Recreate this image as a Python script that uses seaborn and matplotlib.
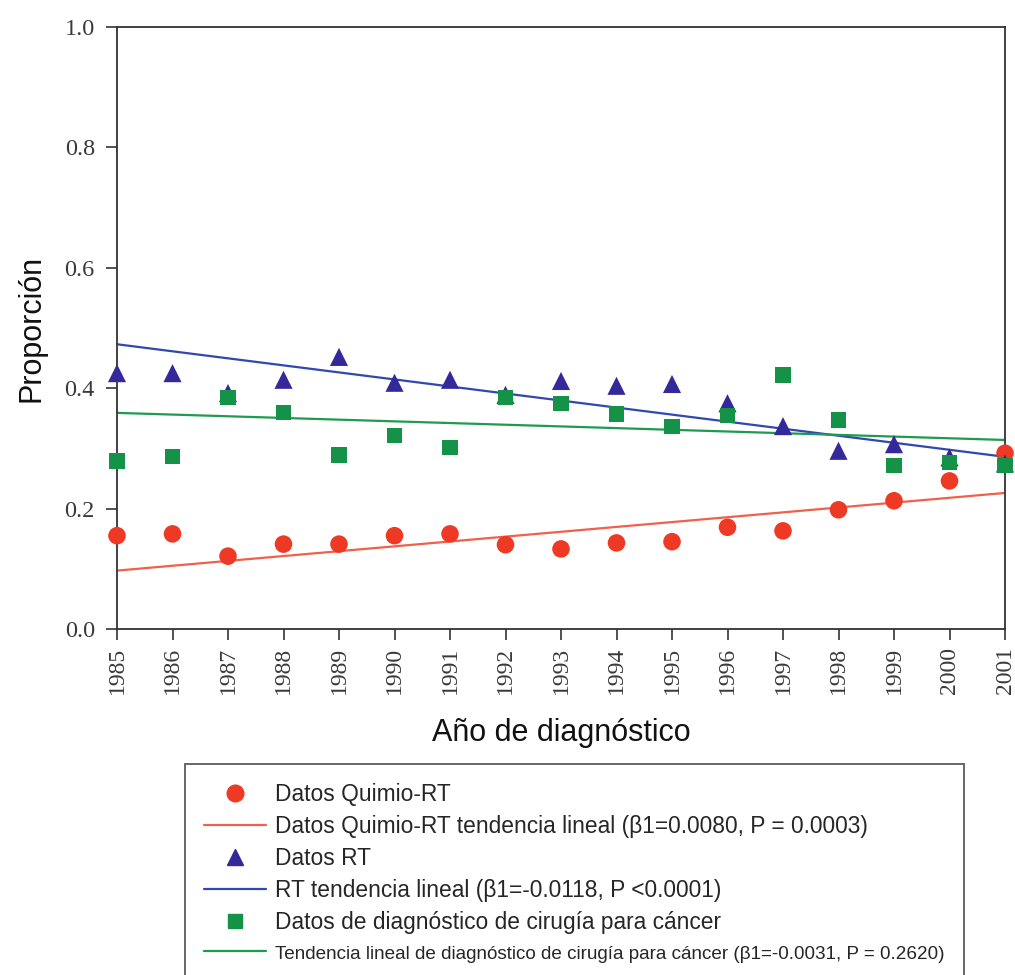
import numpy as np
import pandas as pd
import matplotlib
matplotlib.use("Agg")
import matplotlib.pyplot as plt
import seaborn as sns
from matplotlib.lines import Line2D

years = list(range(1985, 2002))
quimio_rt = [0.155, 0.158, 0.121, 0.141, 0.141, 0.155, 0.158, 0.140, 0.133,
             0.143, 0.145, 0.169, 0.163, 0.198, 0.213, 0.246, 0.292]
rt = [0.425, 0.425, 0.392, 0.414, 0.452, 0.409, 0.414, 0.389, 0.412,
      0.404, 0.407, 0.375, 0.337, 0.296, 0.307, 0.285, 0.275]
cirugia = [0.279, 0.286, 0.384, 0.360, 0.289, 0.321, 0.302, 0.384, 0.374,
           0.357, 0.337, 0.354, 0.422, 0.347, 0.271, 0.277, 0.272]

trend_years = [1985, 2001]
trend_quimio = [0.097, 0.226]
trend_rt = [0.473, 0.286]
trend_cirugia = [0.359, 0.314]

labels = [
    "Datos Quimio-RT",
    "Datos Quimio-RT tendencia lineal (β1=0.0080, P = 0.0003)",
    "Datos RT",
    "RT tendencia lineal (β1=-0.0118, P <0.0001)",
    "Datos de diagnóstico de cirugía para cáncer",
    "Tendencia lineal de diagnóstico de cirugía para cáncer (β1=-0.0031, P = 0.2620)",
]

c_red, c_blue, c_green = "#ee3a24", "#34289a", "#149248"
l_red, l_blue, l_green = "#f0604a", "#3048b0", "#1f9a50"

sns.set_theme(style="white")
plt.rcParams["font.family"] = ["Liberation Sans", "DejaVu Sans"]

fig = plt.figure(figsize=(10.15, 9.75), dpi=100)
ax = fig.add_axes([117/1015, 1-629/975, (1005-117)/1015, (629-27)/975])

pts = pd.DataFrame({"year": years, "q": quimio_rt, "rt": rt, "c": cirugia})
tr = pd.DataFrame({"year": trend_years, "q": trend_quimio, "rt": trend_rt, "c": trend_cirugia})

sns.lineplot(data=tr, x="year", y="q", ax=ax, color=l_red, lw=1.6, zorder=2)
sns.lineplot(data=tr, x="year", y="rt", ax=ax, color=l_blue, lw=1.6, zorder=2)
sns.lineplot(data=tr, x="year", y="c", ax=ax, color=l_green, lw=1.6, zorder=2)
sns.scatterplot(data=pts, x="year", y="q", ax=ax, marker="o", s=160, color=c_red,
                edgecolor="none", zorder=3, clip_on=False)
sns.scatterplot(data=pts, x="year", y="rt", ax=ax, marker="^", s=170, color=c_blue,
                edgecolor="none", zorder=3, clip_on=False)
sns.scatterplot(data=pts, x="year", y="c", ax=ax, marker="s", s=120, color=c_green,
                edgecolor="none", zorder=4, clip_on=False)

ax.set_xlim(1985, 2001)
ax.set_ylim(0, 1.0)
ax.set_xticks(years)
ax.set_xticklabels([str(y) for y in years], rotation=90, family="Liberation Serif",
                   fontsize=17, color="#3a3a3a")
ax.set_yticks([0.0, 0.2, 0.4, 0.6, 0.8, 1.0])
ax.set_yticklabels(["0.0", "0.2", "0.4", "0.6", "0.8", "1.0"], family="Liberation Serif",
                   fontsize=17.5, color="#3a3a3a")
ax.tick_params(axis="both", direction="out", length=8, width=1.2, color="#333333",
               bottom=True, left=True, pad=5)
ax.tick_params(axis="y", pad=8)
for s in ax.spines.values():
    s.set_color("#333333")
    s.set_linewidth(1.3)
ax.set_xlabel("Año de diagnóstico", fontsize=22, labelpad=17, color="#111111")
ax.set_ylabel("Proporción", fontsize=22, labelpad=13, color="#111111")

handles = [
    Line2D([], [], marker="o", ls="none", color=c_red, markersize=12),
    Line2D([], [], color=l_red, lw=1.6),
    Line2D([], [], marker="^", ls="none", color=c_blue, markersize=11),
    Line2D([], [], color=l_blue, lw=1.6),
    Line2D([], [], marker="s", ls="none", color=c_green, markersize=10),
    Line2D([], [], color=l_green, lw=1.6),
]
leg = fig.legend(handles, labels, loc="upper left", bbox_to_anchor=(185/1015, 1-764/975),
                 frameon=True, fancybox=False, edgecolor="#333333", fontsize=16.4,
                 handlelength=2.7, handletextpad=0.4, labelspacing=0.39,
                 borderpad=0.85, borderaxespad=0)
leg.get_frame().set_linewidth(1.3)
texts = leg.get_texts()
texts[-1].set_fontsize(13.6)

fig.savefig("out.png", dpi=100)
